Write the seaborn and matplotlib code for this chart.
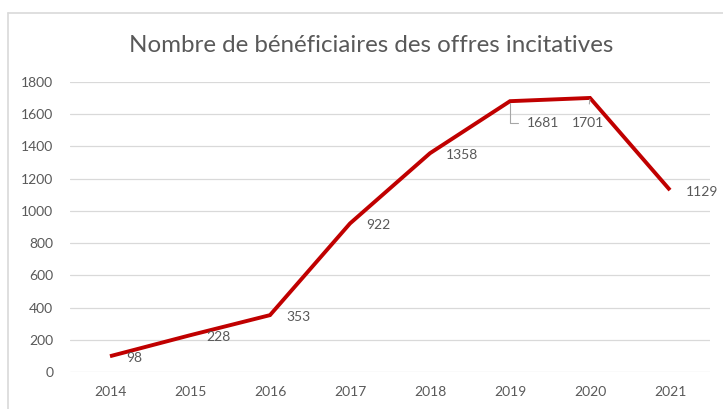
import pandas as pd
import matplotlib.pyplot as plt
import seaborn as sns
from matplotlib.lines import Line2D

# Data
years = [2014, 2015, 2016, 2017, 2018, 2019, 2020, 2021]
beneficiaires = [98, 228, 353, 922, 1358, 1681, 1701, 1129]
title = "Nombre de bénéficiaires des offres incitatives"

df = pd.DataFrame({"Année": years, "Bénéficiaires": beneficiaires})

sns.set_theme(style="white")
plt.rcParams["font.family"] = ["Lato", "DejaVu Sans"]

text_color = "#595959"
grid_color = "#D9D9D9"
line_color = "#C00000"

fig = plt.figure(figsize=(7.23, 4.09), dpi=100)
ax = fig.add_axes([70 / 723, 1 - 372 / 409, 640 / 723, 290 / 409])

sns.lineplot(data=df, x="Année", y="Bénéficiaires", ax=ax, color=line_color,
             linewidth=2.8, solid_joinstyle="miter", solid_capstyle="butt")

ax.set_xlim(years[0] - 0.5, years[-1] + 0.5)
ax.set_ylim(0, 1800)
ax.set_xticks(years)
ax.set_xticklabels([str(y) for y in years])
ax.set_yticks(range(0, 1801, 200))
ax.set_xlabel("")
ax.set_ylabel("")
for s in ax.spines.values():
    s.set_visible(False)
ax.yaxis.grid(True, color=grid_color, linewidth=0.9)
ax.set_axisbelow(True)
ax.tick_params(axis="both", length=0, labelsize=10, colors=text_color)
ax.tick_params(axis="y", pad=12)
ax.tick_params(axis="x", pad=10)

# Data labels
for x, y in zip(years, beneficiaires):
    if x == 2019:
        ax.annotate(str(y), xy=(x, y), xytext=(17, -22), textcoords="offset pixels",
                    ha="left", va="center", fontsize=10, color=text_color,
                    arrowprops=dict(arrowstyle="-", color="#A6A6A6", lw=0.8,
                                    connectionstyle="angle,angleA=180,angleB=90,rad=0",
                                    relpos=(0, 0.5), shrinkA=4, shrinkB=1))
    elif x == 2020:
        ax.annotate(str(y), xy=(x, y), xytext=(-2, -25), textcoords="offset pixels",
                    ha="center", va="center", fontsize=10, color=text_color,
                    arrowprops=dict(arrowstyle="-", color="#A6A6A6", lw=0.8,
                                    relpos=(0.5, 1), shrinkA=7, shrinkB=1))
    else:
        ax.annotate(str(y), xy=(x, y), xytext=(16, -2), textcoords="offset pixels",
                    ha="left", va="center", fontsize=10, color=text_color)

fig.text(371 / 723, 1 - 45 / 409, title, ha="center", va="center",
         fontsize=17.4, color=text_color)

# Chart area border (left and top visible)
fig.add_artist(Line2D([8 / 723, 8 / 723], [0, 1 - 13 / 409], transform=fig.transFigure,
                      color=grid_color, linewidth=1.2))
fig.add_artist(Line2D([8 / 723, 1], [1 - 13 / 409, 1 - 13 / 409], transform=fig.transFigure,
                      color=grid_color, linewidth=1.2))

fig.savefig("out.png", dpi=100, facecolor="white")
